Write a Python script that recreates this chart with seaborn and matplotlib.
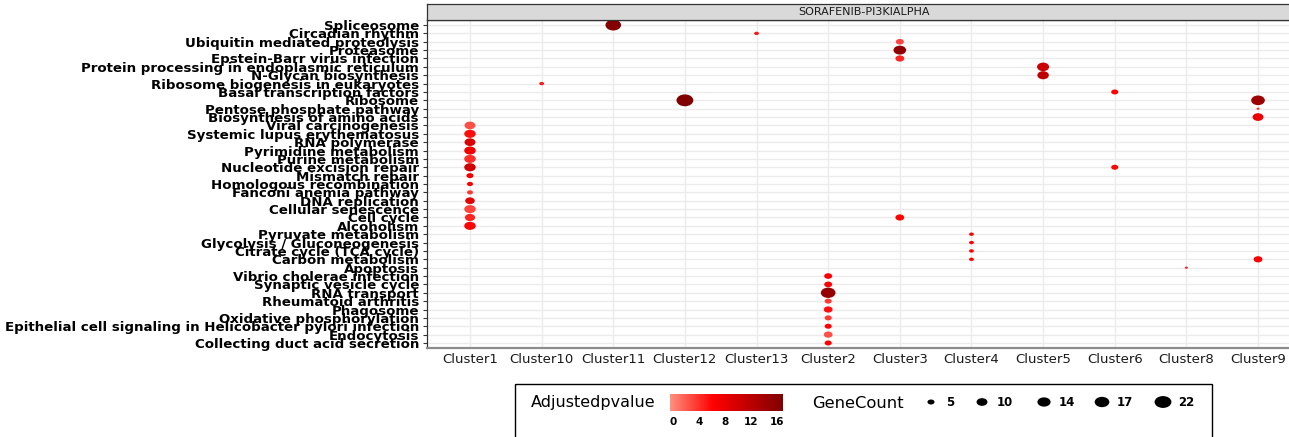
import numpy as np
import pandas as pd
import matplotlib
matplotlib.use("Agg")
import matplotlib.pyplot as plt
import seaborn as sns
from matplotlib.path import Path
from matplotlib.transforms import Affine2D
from matplotlib.markers import MarkerStyle
from matplotlib.colors import LinearSegmentedColormap, Normalize
from matplotlib.cm import ScalarMappable
from matplotlib.patches import Rectangle

# ---- data -------------------------------------------------------------
pathways = [
    "Spliceosome", "Circadian rhythm", "Ubiquitin mediated proteolysis",
    "Proteasome", "Epstein-Barr virus infection",
    "Protein processing in endoplasmic reticulum", "N-Glycan biosynthesis",
    "Ribosome biogenesis in eukaryotes", "Basal transcription factors",
    "Ribosome", "Pentose phosphate pathway", "Biosynthesis of amino acids",
    "Viral carcinogenesis", "Systemic lupus erythematosus", "RNA polymerase",
    "Pyrimidine metabolism", "Purine metabolism", "Nucleotide excision repair",
    "Mismatch repair", "Homologous recombination", "Fanconi anemia pathway",
    "DNA replication", "Cellular senescence", "Cell cycle", "Alcoholism",
    "Pyruvate metabolism", "Glycolysis / Gluconeogenesis",
    "Citrate cycle (TCA cycle)", "Carbon metabolism", "Apoptosis",
    "Vibrio cholerae infection", "Synaptic vesicle cycle", "RNA transport",
    "Rheumatoid arthritis", "Phagosome", "Oxidative phosphorylation",
    "Epithelial cell signaling in Helicobacter pylori infection",
    "Endocytosis", "Collecting duct acid secretion",
]
clusters = ["Cluster1", "Cluster10", "Cluster11", "Cluster12", "Cluster13",
            "Cluster2", "Cluster3", "Cluster4", "Cluster5", "Cluster6",
            "Cluster8", "Cluster9"]
facet_label = "SORAFENIB-PI3KIALPHA"

point_cluster = (
    ["Cluster11", "Cluster13", "Cluster3", "Cluster3", "Cluster3",
     "Cluster5", "Cluster5", "Cluster10", "Cluster6", "Cluster12",
     "Cluster9", "Cluster9", "Cluster9"]
    + ["Cluster1"] * 13
    + ["Cluster6", "Cluster3", "Cluster4", "Cluster4", "Cluster4", "Cluster4",
       "Cluster9", "Cluster8"]
    + ["Cluster2"] * 9
)
point_pathway = [
    "Spliceosome", "Circadian rhythm", "Ubiquitin mediated proteolysis",
    "Proteasome", "Epstein-Barr virus infection",
    "Protein processing in endoplasmic reticulum", "N-Glycan biosynthesis",
    "Ribosome biogenesis in eukaryotes", "Basal transcription factors",
    "Ribosome", "Ribosome", "Pentose phosphate pathway",
    "Biosynthesis of amino acids",
    "Viral carcinogenesis", "Systemic lupus erythematosus", "RNA polymerase",
    "Pyrimidine metabolism", "Purine metabolism", "Nucleotide excision repair",
    "Mismatch repair", "Homologous recombination", "Fanconi anemia pathway",
    "DNA replication", "Cellular senescence", "Cell cycle", "Alcoholism",
    "Nucleotide excision repair", "Cell cycle", "Pyruvate metabolism",
    "Glycolysis / Gluconeogenesis", "Citrate cycle (TCA cycle)",
    "Carbon metabolism", "Carbon metabolism", "Apoptosis",
    "Vibrio cholerae infection", "Synaptic vesicle cycle", "RNA transport",
    "Rheumatoid arthritis", "Phagosome", "Oxidative phosphorylation",
    "Epithelial cell signaling in Helicobacter pylori infection",
    "Endocytosis", "Collecting duct acid secretion",
]
gene_count = [19, 3, 6, 13, 7, 12, 11, 3, 5, 22, 15, 2, 10,
              10, 11, 10, 11, 11, 11, 5, 4, 4, 8, 11, 9, 11,
              5, 7, 3, 3, 3, 3, 7, 2,
              6, 6, 17, 5, 7, 5, 5, 7, 5]
adjusted_pvalue = [16.5, 5, 3, 15.5, 4.5, 10.5, 11.5, 5, 6, 16.9, 14.5, 4, 7.5,
                   2.5, 5.5, 9, 7, 4, 10, 7, 6.5, 3.5, 8.5, 3, 4.5, 6,
                   6, 6, 6, 6, 6, 6, 6.5, 5,
                   6.5, 6, 15, 3.5, 5.5, 3.5, 6, 2.5, 6.5]

padj_breaks = [0, 4, 8, 12, 16]
count_breaks = [5, 10, 14, 17, 22]
padj_limits = (-0.5, 16.9)
count_limits = (2, 22)

# ---- style ------------------------------------------------------------
sns.set_theme(style="white")
plt.rcParams["font.family"] = ["DejaVu Sans"]

df = pd.DataFrame({
    "Cluster": pd.Categorical(point_cluster, categories=clusters),
    "Pathway": pd.Categorical(point_pathway, categories=pathways[::-1]),
    "GeneCount": gene_count,
    "Adjustedpvalue": adjusted_pvalue,
})

W, H = 1289, 437
fig = plt.figure(figsize=(W / 100, H / 100), dpi=100)
fig.patch.set_facecolor("white")


def frame(x0, y0, x1, y1):
    """Figure rectangle from pixel edges measured from the top-left."""
    return [x0 / W, 1 - y1 / H, (x1 - x0) / W, (y1 - y0) / H]


cmap = LinearSegmentedColormap.from_list(
    "padj", [(0.0, "#FF9080"), (0.38, "#FF0000"), (1.0, "#800000")])
norm = Normalize(*padj_limits)


def marker_area(count):
    return 7.11 * np.asarray(count, dtype=float) - 9.41


ellipse = MarkerStyle(Path.unit_circle().transformed(Affine2D().scale(1, 1 / 1.42)))

ax = fig.add_axes(frame(427, 20, 1301, 348))
sns.scatterplot(
    data=df, x="Cluster", y="Pathway",
    hue="Adjustedpvalue", size="GeneCount",
    palette=cmap, hue_norm=norm,
    sizes=(float(marker_area(count_limits[0])), float(marker_area(count_limits[1]))),
    size_norm=count_limits,
    marker=ellipse, linewidth=0, edgecolor="none",
    legend=False, ax=ax, zorder=3,
)
ax.set_xlim(-0.6, len(clusters) - 0.4)
ax.set_ylim(-0.6, len(pathways) - 0.4)
ax.set_xlabel("")
ax.set_ylabel("")
ax.grid(True, color="#EBEBEB", linewidth=1.0)
ax.set_axisbelow(True)
for side, sp in ax.spines.items():
    sp.set_color("#333333")
    sp.set_linewidth(0.9)
ax.spines["bottom"].set_color("#8C8C8C")
ax.spines["bottom"].set_linewidth(1.6)

ax.tick_params(axis="y", left=True, length=2.9, width=0.8, color="#333333",
               pad=2.9, labelsize=9.6, labelcolor="black")
for lbl in ax.get_yticklabels():
    lbl.set_fontweight("bold")
ax.tick_params(axis="x", bottom=False, length=0, pad=3.6, labelsize=9.5,
               labelcolor="#1A1A1A")

# facet strip
sax = fig.add_axes(frame(427, 4, 1301, 20))
sax.set_facecolor("#D9D9D9")
sax.set_xticks([])
sax.set_yticks([])
for sp in sax.spines.values():
    sp.set_color("#333333")
    sp.set_linewidth(0.9)
sax.text(0.5, 0.5, facet_label, transform=sax.transAxes, ha="center",
         va="center", fontsize=8, color="#1A1A1A")

# ---- legend -----------------------------------------------------------
lax = fig.add_axes([0, 0, 1, 1], zorder=5)
lax.set_xlim(0, W)
lax.set_ylim(H, 0)
lax.axis("off")
lax.patch.set_alpha(0)
lax.add_patch(Rectangle((515, 384), 697, 70, fill=False, edgecolor="black",
                        linewidth=1.0))
lax.text(531, 403, "Adjustedpvalue", ha="left", va="center", fontsize=11.5,
         color="black")
lax.text(812, 403, "GeneCount", ha="left", va="center", fontsize=11.8,
         color="black")
key_x = [931, 982, 1044, 1102, 1163]
lax.scatter(key_x, [402] * len(key_x), s=marker_area(count_breaks),
            c="black", marker=ellipse, linewidths=0)
for kx, c in zip(key_x, count_breaks):
    lax.text(kx + 15, 403, str(c), ha="left", va="center", fontsize=8.5,
             fontweight="bold", color="black")

cax = fig.add_axes(frame(670, 394, 783, 411), zorder=6)
cb = fig.colorbar(ScalarMappable(norm=norm, cmap=cmap), cax=cax,
                  orientation="horizontal", ticks=padj_breaks)
cb.outline.set_visible(False)
cax.tick_params(axis="x", bottom=True, top=True, labeltop=False,
                direction="in", length=3.5, width=0.8, color="white",
                labelsize=7.5, labelcolor="black", pad=4)
for lbl in cax.get_xticklabels():
    lbl.set_fontweight("bold")

fig.savefig("out.png", dpi=100, facecolor="white")
